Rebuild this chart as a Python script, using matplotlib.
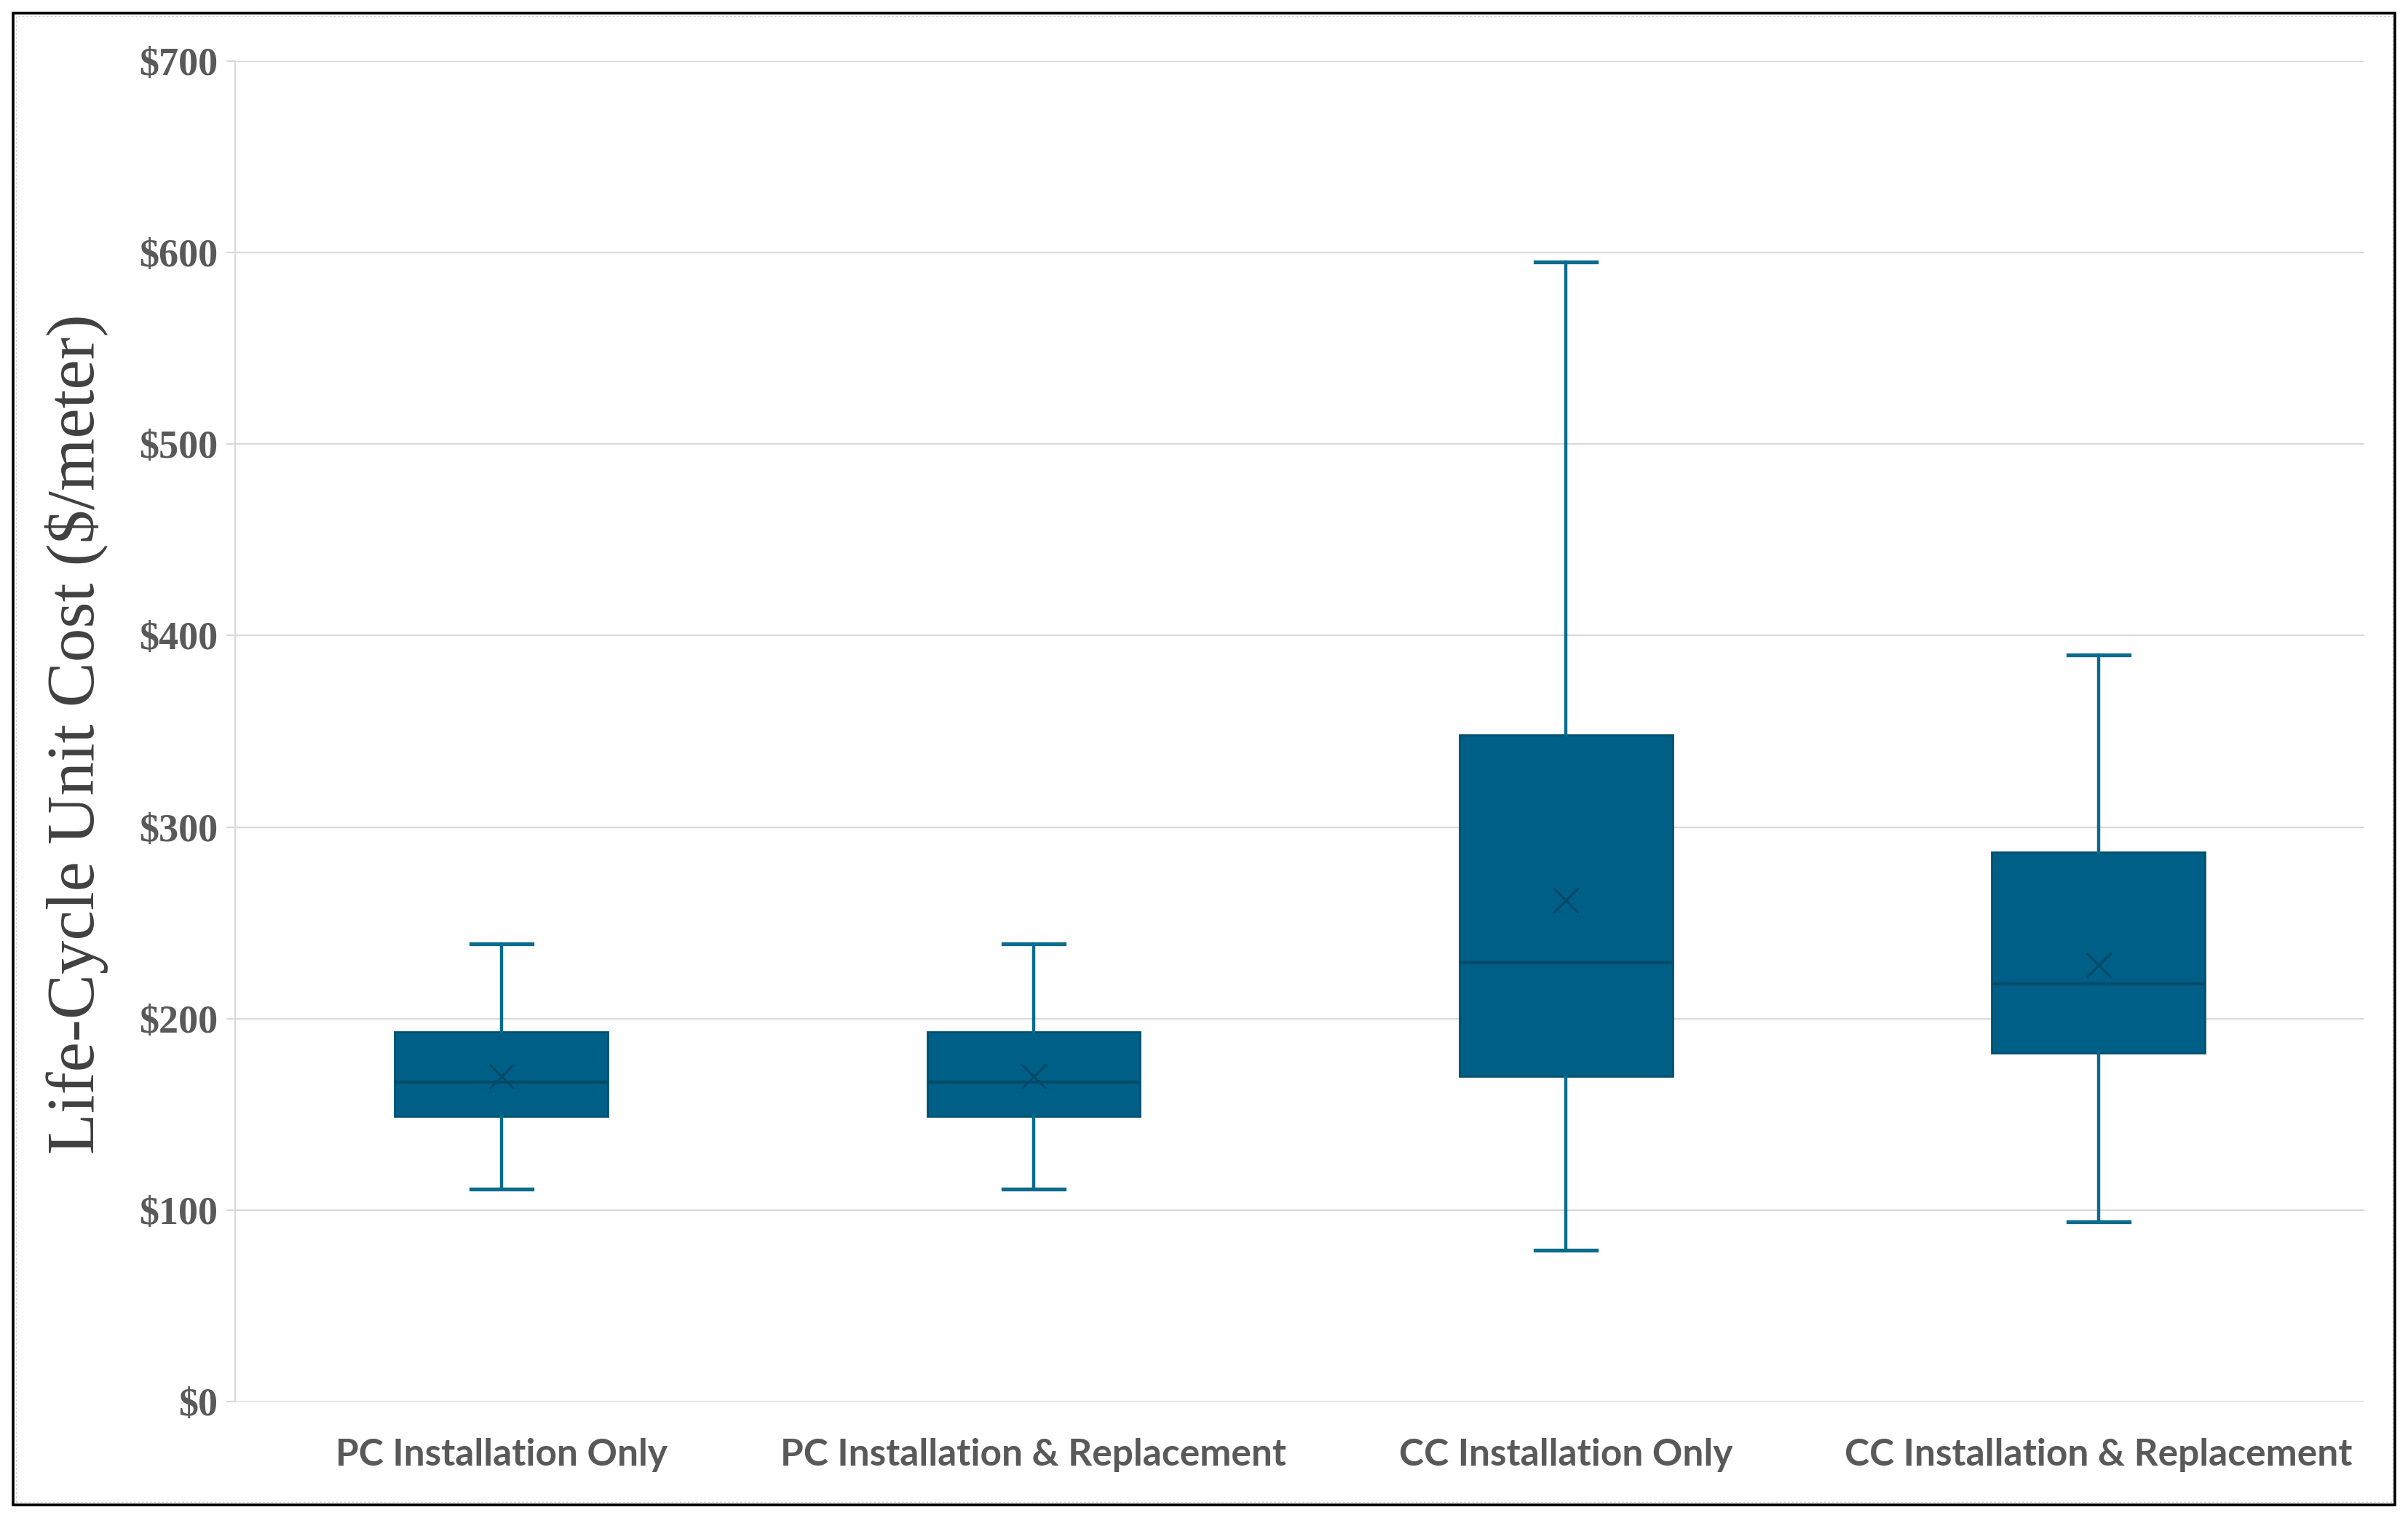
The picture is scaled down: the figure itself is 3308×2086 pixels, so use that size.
import matplotlib
matplotlib.use("Agg")
import matplotlib.pyplot as plt
from matplotlib.patches import Rectangle
from matplotlib.ticker import FuncFormatter, FixedLocator

# ---- data ----
categories = ["PC Installation Only", "PC Installation & Replacement",
              "CC Installation Only", "CC Installation & Replacement"]
whisker_low = [111, 111, 79, 94]
q1_values = [149, 149, 170, 182]
median_values = [167, 167, 229, 218]
mean_values = [170, 170, 262, 228]
q3_values = [193, 193, 348, 287]
whisker_high = [239, 239, 595, 390]
y_ticks = [0, 100, 200, 300, 400, 500, 600, 700]

BOX_FILL = "#005F86"
BOX_EDGE = "#00506F"
WHISK = "#0A6B8C"
MED = "#004A69"
TXT_GRAY = "#595959"
GRID = "#D9D9D9"

fig = plt.figure(figsize=(33.08, 20.86), dpi=100)
fig.patch.set_facecolor("white")
ax = fig.add_axes([0.0976, 0.0767, 0.8844, 0.883])

stats = []
for c, lo, a, m, mu, b, hi in zip(categories, whisker_low, q1_values, median_values,
                                  mean_values, q3_values, whisker_high):
    stats.append(dict(label=c, whislo=lo, q1=a, med=m, mean=mu, q3=b, whishi=hi, fliers=[]))

ax.bxp(stats, positions=list(range(len(categories))), widths=0.4, capwidths=0.115,
       patch_artist=True, showmeans=True, showfliers=False,
       boxprops=dict(facecolor=BOX_FILL, edgecolor=BOX_EDGE, linewidth=2),
       whiskerprops=dict(color=WHISK, linewidth=3.2),
       capprops=dict(color=WHISK, linewidth=3.8),
       medianprops=dict(color=MED, linewidth=3),
       meanprops=dict(marker="x", markeredgecolor=MED, markerfacecolor=MED,
                      markersize=24, markeredgewidth=2.2))

ax.set_xlim(-0.5, len(categories) - 0.5)
ax.set_ylim(0, 700)
ax.yaxis.set_major_locator(FixedLocator(y_ticks))
ax.yaxis.set_major_formatter(FuncFormatter(lambda v, p: f"${int(v)}"))
ax.grid(axis="y", color=GRID, linewidth=1.6)
ax.set_axisbelow(True)
for s in ["top", "right", "bottom"]:
    ax.spines[s].set_visible(False)
ax.spines["left"].set_color(GRID)
ax.spines["left"].set_linewidth(1.6)

ax.tick_params(axis="y", length=9, width=1.6, color=GRID, pad=8)
ax.tick_params(axis="x", length=0, pad=36)
for lab in ax.get_yticklabels():
    lab.set_fontfamily("Liberation Serif")
    lab.set_fontweight("bold")
    lab.set_fontsize(39)
    lab.set_color(TXT_GRAY)
ax.set_xticks(list(range(len(categories))))
ax.set_xticklabels(categories, fontfamily="Lato", fontweight="bold", fontsize=37, color=TXT_GRAY)

ax.set_ylabel("Life-Cycle Unit Cost ($/meter)", fontfamily="Liberation Serif",
              fontsize=67, color="#404040")
ax.yaxis.label.set_verticalalignment("center")
ax.yaxis.set_label_coords(-0.0745, 0.498)

# outer frame
fig.patches.append(Rectangle((22 / 3308, 22 / 2086), (3287 - 22) / 3308, (2064 - 22) / 2086,
                             transform=fig.transFigure, fill=False, ec="#D0D0D0", lw=1,
                             ls=(0, (2, 2))))
fig.patches.append(Rectangle((18 / 3308, 18 / 2086), (3290 - 18) / 3308, (2068 - 18) / 2086,
                             transform=fig.transFigure, fill=False, ec="black", lw=2.6))

fig.savefig("out.png", dpi=100)
